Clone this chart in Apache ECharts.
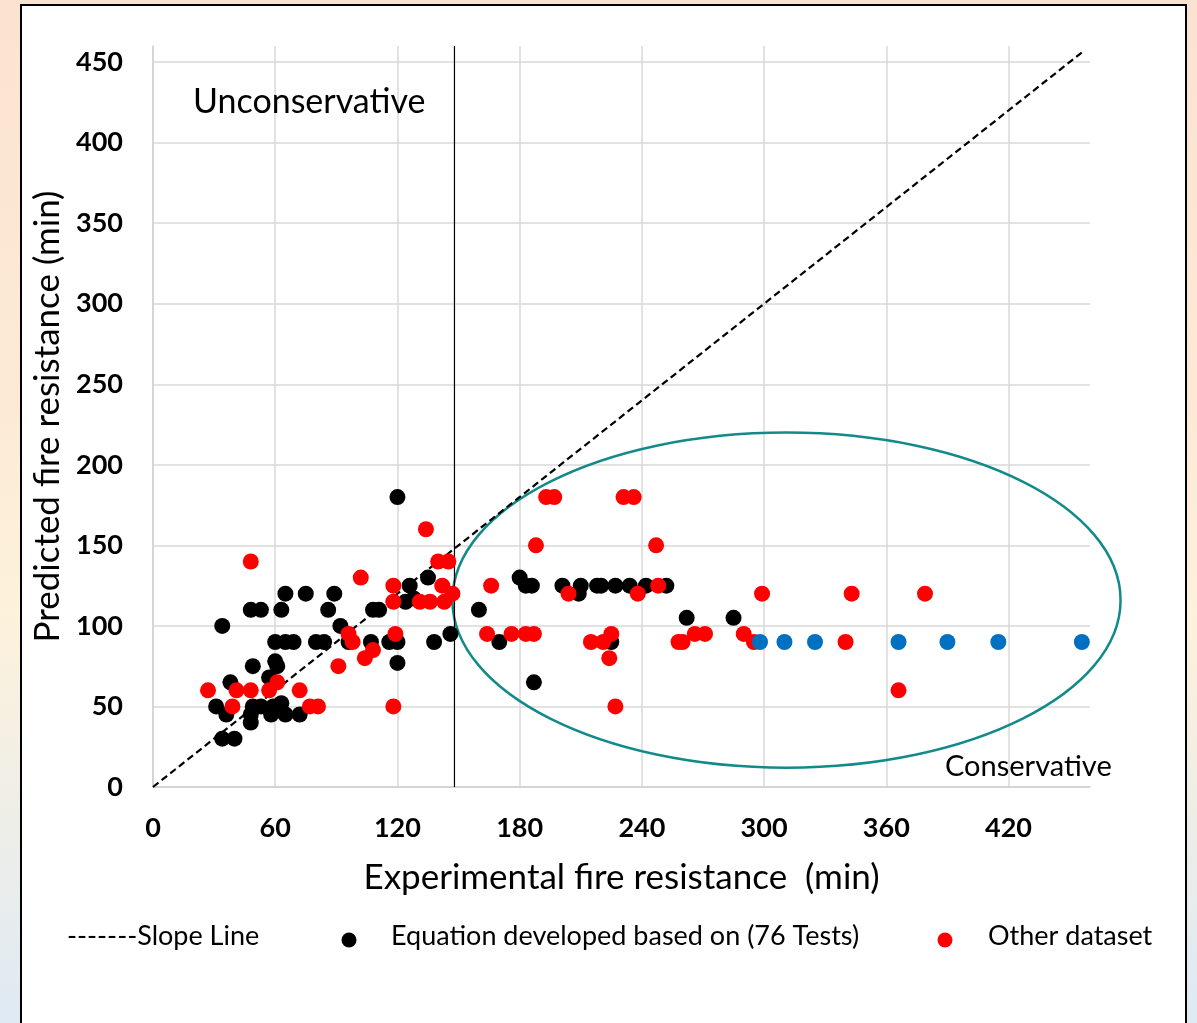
<!DOCTYPE html>
<html>
<head>
<meta charset="utf-8">
<script src="https://cdn.jsdelivr.net/npm/echarts@6/dist/echarts.min.js"></script>
<style>
  html, body { margin:0; padding:0; width:1197px; height:1023px; overflow:hidden; }
  body { background: linear-gradient(to bottom, #fbe3d1 0%, #fcead7 40%, #fdf2dc 60%, #dfeaf4 100%); position:relative; }
  #panel { position:absolute; left:20px; top:4px; width:1163px; height:1040px; background:#fff; border:2px solid #000; }
  #chart { position:absolute; left:0; top:0; width:1197px; height:1023px; }
</style>
</head>
<body>
<div id="panel"></div>
<div id="chart"></div>
<script>
// ---- Data ----
const equationTests = [
  [34,100],[48,110],[53,110],[63,110],[65,120],[75,120],[89,120],[86,110],[108,110],[111,110],[92,100],
  [60,90],[65,90],[69,90],[80,90],[84,90],[96,90],[107,90],[116,90],[120,90],[138,90],[146,95],
  [49,75],[60,78],[61,75],[38,65],[57,68],
  [31,50],[36,45],[49,50],[53,50],[59,50],[63,52],[48,45],[48,40],[58,45],[65,45],[72,45],
  [34,30],[40,30],
  [120,180],[135,130],[126,125],[124,115],[128,117],[120,77],[160,110],
  [180,130],[183,125],[186,125],[170,90],[187,65],[201,125],[209,120],[210,125],[218,125],[220,125],
  [227,125],[234,125],[242,125],[252,125],[225,90],[262,105],[285,105]
];
const otherDataset = [
  [48,140],[27,60],[41,60],[48,60],[57,60],[61,65],[72,60],[39,50],[77,50],[81,50],
  [134,160],[140,140],[145,140],[102,130],[118,125],[142,125],[147,120],[118,115],[131,115],[136,115],[143,115],
  [96,95],[98,90],[119,95],[108,85],[104,80],[91,75],[118,50],
  [193,180],[197,180],[231,180],[236,180],[188,150],[166,125],[204,120],[238,120],
  [164,95],[176,95],[183,95],[187,95],[215,90],[221,90],[225,95],[224,80],[227,50],
  [247,150],[248,125],[258,90],[260,90],[266,95],[271,95],[290,95],[295,90],[299,120],
  [340,90],[343,120],[366,60],[379,120]
];
const blueSeries = [[298,90],[310,90],[325,90],[366,90],[390,90],[415,90],[456,90]];
const slopeLine = [[0,0],[456,456]];
const boundaryLine = [[148,0],[148,460]];
// ellipse annotation in data units: centre x, centre y, radius x, radius y
const ellipseSpec = [311, 116, 164, 104];

const FONT = 'Lato, "Open Sans", sans-serif';
const chart = echarts.init(document.getElementById('chart'), null, {renderer:'canvas'});

const option = {
  backgroundColor: 'transparent',
  animation: false,
  grid: { left:153, right:107, top:46, bottom:236, containLabel:false },
  xAxis: {
    type:'value', min:0, max:460, interval:60,
    name:'Experimental fire resistance  (min)', nameLocation:'middle', nameGap:73,
    nameTextStyle:{ fontFamily:FONT, fontSize:35, color:'#000' },
    axisLine:{ show:true, lineStyle:{ color:'#d0d0d0', width:1.5 } },
    axisTick:{ show:false },
    axisLabel:{ fontFamily:FONT, fontWeight:'bold', fontSize:27, color:'#000', margin:28, showMaxLabel:false },
    splitLine:{ show:true, showMaxLine:false, lineStyle:{ color:'#d9d9d9', width:1.5 } }
  },
  yAxis: {
    type:'value', min:0, max:460, interval:50,
    name:'Predicted fire resistance (min)', nameLocation:'middle', nameGap:85,
    nameTextStyle:{ fontFamily:FONT, fontSize:35, color:'#000' },
    axisLine:{ show:true, lineStyle:{ color:'#d0d0d0', width:1.5 } },
    axisTick:{ show:false },
    axisLabel:{ fontFamily:FONT, fontWeight:'bold', fontSize:27, color:'#000', margin:30, showMaxLabel:false },
    splitLine:{ show:true, showMaxLine:false, lineStyle:{ color:'#d9d9d9', width:1.5 } }
  },
  series: [
    { name:'Slope Line', type:'line', data:slopeLine, symbol:'none', z:3,
      lineStyle:{ color:'#000', width:2.2, type:[7,4] } },
    { name:'Boundary', type:'line', data:boundaryLine, symbol:'none', z:3,
      lineStyle:{ color:'#000', width:1.2 } },
    { name:'Equation developed based on (76 Tests)', type:'scatter', data:equationTests,
      symbolSize:16, itemStyle:{ color:'#000', opacity:1 }, z:4 },
    { name:'Other dataset', type:'scatter', data:otherDataset,
      symbolSize:16, itemStyle:{ color:'#ff0000', opacity:1 }, z:5 },
    { name:'Extra', type:'scatter', data:blueSeries,
      symbolSize:16, itemStyle:{ color:'#0070c0', opacity:1 }, z:6 }
  ],
  graphic: [
    { type:'text', left:193, top:85, style:{ text:'Unconservative', font:'34px ' + FONT, fill:'#000' } },
    { type:'text', left:945, top:752, style:{ text:'Conservative', font:'29px ' + FONT, fill:'#000' } },
    { type:'text', left:67, top:923, style:{ text:'-------Slope Line', font:'27px ' + FONT, fill:'#000' } },
    { type:'circle', shape:{ cx:349, cy:940, r:7.5 }, style:{ fill:'#000' } },
    { type:'text', left:391, top:923, style:{ text:'Equation developed based on (76 Tests)', font:'27px ' + FONT, fill:'#000' } },
    { type:'circle', shape:{ cx:945, cy:940, r:7.5 }, style:{ fill:'#ff0000' } },
    { type:'text', left:988, top:923, style:{ text:'Other dataset', font:'27px ' + FONT, fill:'#000' } }
  ]
};
chart.setOption(option);

// ellipse annotation from data units through the chart's own scales
const c = chart.convertToPixel({gridIndex:0}, [ellipseSpec[0], ellipseSpec[1]]);
const ex = chart.convertToPixel({gridIndex:0}, [ellipseSpec[0] + ellipseSpec[2], ellipseSpec[1]]);
const ey = chart.convertToPixel({gridIndex:0}, [ellipseSpec[0], ellipseSpec[1] + ellipseSpec[3]]);
const g = option.graphic.slice();
g.push({ type:'ellipse', z:1, shape:{ cx:c[0], cy:c[1], rx:Math.abs(ex[0]-c[0]), ry:Math.abs(c[1]-ey[1]) },
  style:{ fill:null, stroke:'#138a8a', lineWidth:2.5 } });
chart.setOption({ graphic: g }, { replaceMerge:['graphic'] });
</script>
</body>
</html>
